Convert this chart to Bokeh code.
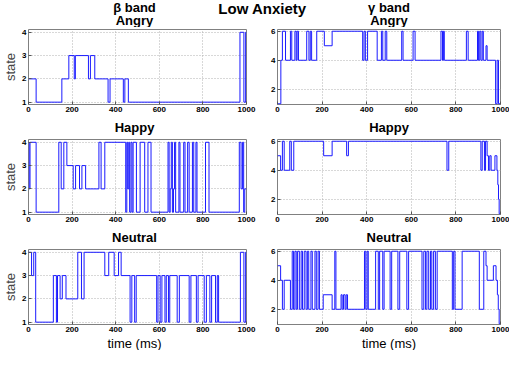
from bokeh.plotting import figure
from bokeh.layouts import column, row
from bokeh.models import Range1d, FixedTicker
from bokeh.core.properties import value
from bokeh.embed import file_html
from bokeh.resources import INLINE

# ---------------- data (state sequences, change points in ms) ----------------
x_ticks = [0, 200, 400, 600, 800, 1000]
beta_yticks = [1, 2, 3, 4]
gamma_yticks = [2, 4, 6]

beta_angry_t = [0, 35, 153, 185, 210, 215, 275, 284, 304, 365, 374, 435, 442, 458, 970, 988, 996, 1000]
beta_angry_s = [2, 1, 2, 3, 2, 3, 2, 3, 2, 1, 2, 1, 2, 1, 4, 1, 4, 4]

gamma_angry_t = [0, 15, 22, 36, 58, 64, 78, 84, 88, 94, 131, 141, 147, 153, 176, 210, 245, 382, 388, 394,
                 404, 447, 466, 472, 483, 490, 557, 563, 608, 617, 733, 740, 744, 748, 847, 855, 897, 901, 907, 912,
                 918, 923, 935, 940, 978, 985, 991, 1000]
gamma_angry_s = [1, 4, 6, 4, 6, 4, 6, 4, 6, 4, 6, 4, 6, 4, 6, 5, 6, 4, 6, 4,
                 6, 4, 6, 4, 6, 4, 6, 4, 6, 4, 6, 4, 6, 4, 6, 4, 6, 4, 6, 4,
                 6, 4, 5, 4, 1, 4, 1, 1]

beta_happy_t = [0, 3, 7, 35, 139, 150, 162, 176, 205, 216, 234, 245, 262, 323, 333, 350, 446, 451, 455, 460,
                464, 470, 475, 480, 495, 512, 533, 548, 562, 640, 645, 650, 655, 660, 665, 670, 675, 690, 695, 712,
                718, 730, 737, 752, 758, 768, 773, 812, 828, 967, 975, 982, 987, 992, 1000]
beta_happy_s = [4, 2, 4, 1, 4, 2, 4, 3, 2, 3, 2, 3, 2, 4, 2, 4, 1, 4, 2, 4,
                1, 4, 1, 4, 1, 4, 1, 4, 1, 4, 1, 2, 4, 1, 2, 4, 1, 4, 1, 4,
                1, 4, 1, 4, 1, 4, 1, 4, 1, 4, 2, 4, 1, 2, 2]

gamma_happy_t = [0, 14, 22, 30, 55, 62, 73, 207, 245, 310, 318, 760, 768, 912, 918, 928, 933, 940, 946, 952,
                 958, 975, 984, 988, 991, 994, 1000]
gamma_happy_s = [5, 4, 6, 4, 6, 4, 6, 5, 6, 5, 6, 4, 6, 4, 6, 4, 6, 5, 4, 5,
                 4, 5, 4, 3, 2, 1, 1]

beta_neutral_t = [0, 14, 24, 33, 114, 128, 133, 145, 155, 172, 226, 243, 255, 350, 368, 393, 413, 425, 466, 474,
                  487, 494, 588, 594, 604, 612, 626, 632, 642, 648, 682, 692, 737, 745, 770, 778, 806, 816, 832, 840,
                  858, 866, 872, 972, 988, 996, 1000]
beta_neutral_s = [4, 3, 4, 1, 3, 1, 3, 2, 3, 2, 4, 2, 4, 3, 4, 3, 4, 3, 1, 3,
                  1, 3, 1, 3, 1, 3, 1, 3, 1, 3, 1, 3, 1, 3, 1, 3, 1, 3, 1, 3,
                  1, 3, 1, 4, 1, 4, 4]

gamma_neutral_t = [0, 14, 22, 30, 58, 66, 72, 78, 84, 90, 98, 106, 112, 120, 128, 134, 140, 150, 156, 168,
                   174, 182, 188, 205, 245, 257, 262, 285, 290, 296, 303, 308, 314, 390, 396, 402, 407, 440, 452, 458,
                   472, 478, 505, 512, 540, 548, 580, 588, 648, 656, 664, 670, 678, 686, 692, 700, 708, 716, 784, 790,
                   796, 828, 905, 925, 935, 940, 968, 980, 986, 990, 994, 1000]
gamma_neutral_s = [5, 4, 2, 4, 2, 6, 2, 6, 2, 6, 2, 6, 2, 6, 2, 6, 2, 6, 2, 6,
                   2, 6, 2, 3, 2, 6, 2, 3, 2, 3, 2, 3, 2, 6, 2, 6, 2, 6, 2, 6,
                   2, 6, 2, 6, 2, 6, 2, 6, 2, 6, 2, 6, 2, 6, 2, 6, 2, 6, 2, 6,
                   2, 6, 2, 6, 5, 4, 5, 4, 3, 2, 1, 1]

main_title = "Low Anxiety"
band_titles = ["\u03b2 band", "\u03b3 band"]
emotions = ["Angry", "Happy", "Neutral"]
x_label = "time (ms)"
y_label = "state"

# ---------------- layout constants ----------------
FONT = "Liberation Sans"
W = 509
WL, BL_L, BR_L = 262, 22, 16
WR, BL_R, BR_R = 247, 15, 9
CX_L = BL_L + (WL - BL_L - BR_L) / 2
CX_R = WL + BL_R + (WR - BL_R - BR_R) / 2
beta_ylim = (0.9, 4.12)
gamma_ylim = (0.95, 6.12)


def panel(t, s, ylim, yticks, width, bl, br, height, ylabel=None):
    p = figure(width=width, height=height, x_range=Range1d(0, 1000), y_range=Range1d(*ylim),
               output_backend="svg", toolbar_location=None, min_border=0,
               min_border_left=bl, min_border_right=br, min_border_top=2, min_border_bottom=12)
    p.step(t, s, mode="after", line_color="#1a1aff", line_width=1.0)
    p.xaxis.ticker = FixedTicker(ticks=x_ticks)
    p.yaxis.ticker = FixedTicker(ticks=yticks)
    for ax in p.axis:
        ax.major_label_text_font = FONT
        ax.major_label_text_font_size = "8px"
        ax.major_label_text_font_style = "bold"
        ax.major_label_text_color = "#000000"
        ax.major_tick_in = 3
        ax.major_tick_out = 0
        ax.minor_tick_in = 0
        ax.minor_tick_out = 0
        ax.major_label_standoff = 2
        ax.axis_line_color = None
        ax.major_tick_line_color = "#555555"
    if ylabel:
        p.yaxis.axis_label = ylabel
        p.yaxis.axis_label_text_font = FONT
        p.yaxis.axis_label_text_font_size = "13px"
        p.yaxis.axis_label_text_font_style = "normal"
        p.yaxis.axis_label_standoff = 1
    p.grid.grid_line_color = "#b0b0b0"
    p.grid.grid_line_dash = "1 2"
    p.outline_line_color = "#808080"
    return p


def strip(h, items):
    p = figure(width=W, height=h, x_range=Range1d(0, W), y_range=Range1d(h, 0),
               output_backend="svg", toolbar_location=None, min_border=0,
               x_axis_location=None, y_axis_location=None)
    p.outline_line_color = None
    p.grid.visible = False
    for (x, y, txt, size, style) in items:
        p.text(x=[x], y=[y], text=[txt], text_font=value(FONT), text_font_size=size,
               text_font_style=style, text_align="center", text_baseline="middle",
               text_color="#000000")
    return p


top = strip(27, [(CX_L, 7, band_titles[0], "13px", "bold"),
                 (WL, 8, main_title, "15px", "bold"),
                 (CX_R, 7, band_titles[1], "13px", "bold"),
                 (CX_L, 20, emotions[0], "13px", "bold"),
                 (CX_R, 20, emotions[0], "13px", "bold")])

r1 = row(panel(beta_angry_t, beta_angry_s, beta_ylim, beta_yticks, WL, BL_L, BR_L, 89, y_label),
         panel(gamma_angry_t, gamma_angry_s, gamma_ylim, gamma_yticks, WR, BL_R, BR_R, 89))
s2 = strip(21, [(CX_L, 10.5, emotions[1], "13px", "bold"), (CX_R, 10.5, emotions[1], "13px", "bold")])
r2 = row(panel(beta_happy_t, beta_happy_s, beta_ylim, beta_yticks, WL, BL_L, BR_L, 89, y_label),
         panel(gamma_happy_t, gamma_happy_s, gamma_ylim, gamma_yticks, WR, BL_R, BR_R, 89))
s3 = strip(21, [(CX_L, 10.5, emotions[2], "13px", "bold"), (CX_R, 10.5, emotions[2], "13px", "bold")])
r3 = row(panel(beta_neutral_t, beta_neutral_s, beta_ylim, beta_yticks, WL, BL_L, BR_L, 89, y_label),
         panel(gamma_neutral_t, gamma_neutral_s, gamma_ylim, gamma_yticks, WR, BL_R, BR_R, 89))
s4 = strip(14, [(CX_L, 7, x_label, "13px", "normal"), (CX_R, 7, x_label, "13px", "normal")])

layout = column(top, r1, s2, r2, s3, r3, s4)

open("out.html", "w").write(file_html(layout, INLINE))
